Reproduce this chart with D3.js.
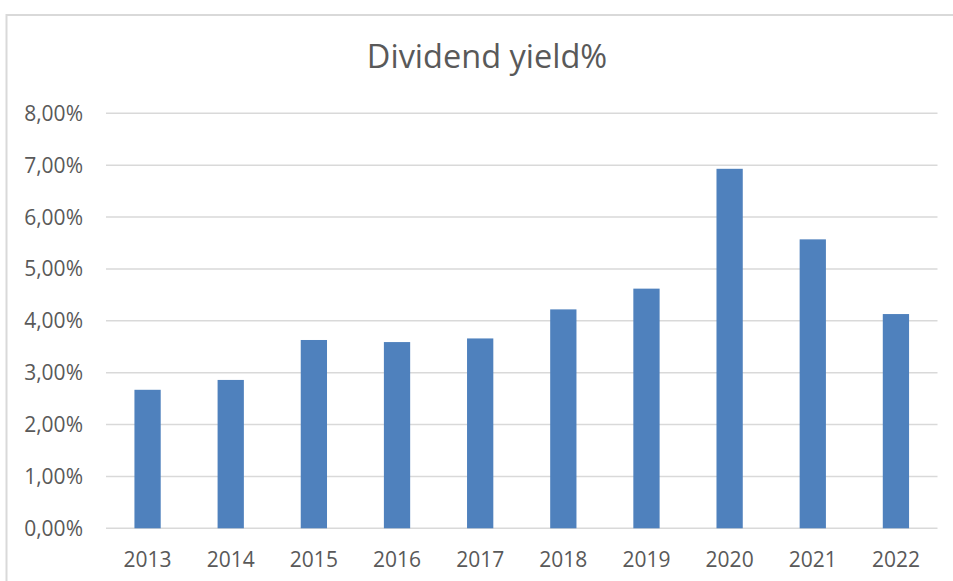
<!DOCTYPE html>
<html>
<head>
<meta charset="utf-8">
<script src="https://cdn.jsdelivr.net/npm/d3@7"></script>
<style>
  body { margin: 0; background: #fff; }
  svg { display: block; }
</style>
</head>
<body>
<div id="chart"></div>
<script>
// data
var years = ["2013", "2014", "2015", "2016", "2017", "2018", "2019", "2020", "2021", "2022"];
var yieldPct = [2.67, 2.86, 3.63, 3.59, 3.66, 4.22, 4.62, 6.93, 5.57, 4.13];
var yTicks = [0, 1, 2, 3, 4, 5, 6, 7, 8];

var w = 953;
var h = 581;
// plot area (don't call these top/left: window.top is read only)
var plotL = 106, plotR = 937.5, plotT = 113.3, plotB = 528.3;

var svg = d3.select("#chart")
    .append("svg")
    .attr("width", w)
    .attr("height", h);

// chart area border (runs off the right and bottom edges)
svg.append("rect")
    .attr("x", 6.5)
    .attr("y", 15)
    .attr("width", 1000)
    .attr("height", 1000)
    .attr("fill", "none")
    .attr("stroke", "#d9d9d9")
    .attr("stroke-width", 2);

var xScale = d3.scaleBand()
    .domain(years)
    .range([plotL, plotR])
    .paddingInner(0.684)
    .paddingOuter(0.342);

var yScale = d3.scaleLinear()
    .domain([0, 8])
    .range([plotB, plotT]);

var fmt = function(v) {
    return v.toFixed(2).replace(".", ",") + "%";
};

// gridlines
svg.selectAll("line.grid")
    .data(yTicks)
    .enter()
    .append("line")
    .attr("class", "grid")
    .attr("x1", plotL)
    .attr("x2", plotR)
    .attr("y1", function(d) { return yScale(d); })
    .attr("y2", function(d) { return yScale(d); })
    .attr("stroke", "#d9d9d9")
    .attr("stroke-width", 1.5);

// y labels
svg.selectAll("text.ylab")
    .data(yTicks)
    .enter()
    .append("text")
    .attr("class", "ylab")
    .attr("x", 83)
    .attr("y", function(d) { return yScale(d); })
    .attr("dy", "0.36em")
    .attr("text-anchor", "end")
    .attr("font-family", "'Open Sans', sans-serif")
    .attr("font-size", "21px")
    .attr("fill", "#595959")
    .text(fmt);

// bars
svg.selectAll("rect.bar")
    .data(yieldPct)
    .enter()
    .append("rect")
    .attr("class", "bar")
    .attr("x", function(d, i) { return xScale(years[i]); })
    .attr("width", xScale.bandwidth())
    .attr("y", function(d) { return yScale(d); })
    .attr("height", function(d) { return plotB - yScale(d); })
    .attr("fill", "#4f81bd");

// x labels
svg.selectAll("text.xlab")
    .data(years)
    .enter()
    .append("text")
    .attr("class", "xlab")
    .attr("x", function(d) { return xScale(d) + xScale.bandwidth() / 2; })
    .attr("y", 567)
    .attr("text-anchor", "middle")
    .attr("font-family", "'Open Sans', sans-serif")
    .attr("font-size", "21px")
    .attr("fill", "#595959")
    .text(function(d) { return d; });

// title
svg.append("text")
    .attr("x", 487)
    .attr("y", 68)
    .attr("text-anchor", "middle")
    .attr("font-family", "'Open Sans', sans-serif")
    .attr("font-size", "32.5px")
    .attr("fill", "#595959")
    .text("Dividend yield%");
</script>
</body>
</html>
